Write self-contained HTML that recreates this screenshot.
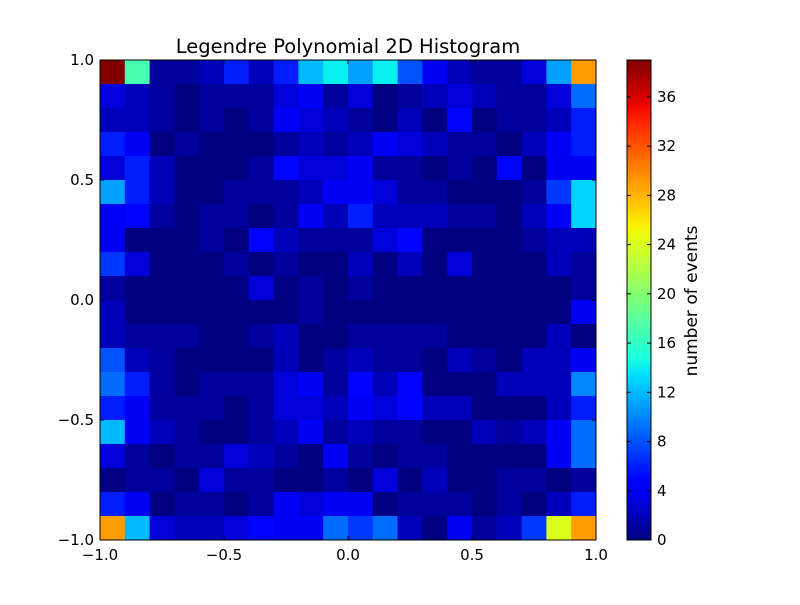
<!DOCTYPE html>
<html><head><meta charset="utf-8"><style>
body{margin:0;background:#fff;}
svg text{font-family:"DejaVu Sans","Liberation Sans",sans-serif;}
</style></head><body>
<svg id="chart" width="800" height="600" xmlns="http://www.w3.org/2000/svg">
<rect width="800" height="600" fill="#fff"/>
</svg>
<script>
const xEdges=[-1,-0.9,-0.8,-0.7,-0.6,-0.5,-0.4,-0.3,-0.2,-0.1,0,0.1,0.2,0.3,0.4,0.5,0.6,0.7,0.8,0.9,1];
const xTicks=[-1.0,-0.5,0.0,0.5,1.0];
const xTickLabels=["\u22121.0","\u22120.5","0.0","0.5","1.0"];
const yTicks=[-1.0,-0.5,0.0,0.5,1.0];
const yTickLabels=["\u22121.0","\u22120.5","0.0","0.5","1.0"];
const cbTicks=[0,4,8,12,16,20,24,28,32,36];
const vmax=39;
// counts: rows from top (y=1) to bottom (y=-1), columns x=-1..1
const counts=[
[39,17,1,1,2,6,2,6,12,14,11,14,8,4,2,1,1,3,11,29],
[3,2,1,0,1,1,1,3,4,1,3,0,1,2,3,2,1,1,3,9],
[2,2,1,0,1,0,1,4,3,2,1,0,2,0,5,0,1,1,2,6],
[6,4,0,1,0,0,0,1,2,1,2,4,3,2,1,1,0,2,4,6],
[3,6,2,0,0,0,1,5,3,3,4,1,1,0,1,0,5,0,4,4],
[11,6,2,0,0,1,1,1,2,4,4,3,1,1,0,0,0,1,7,13],
[4,5,1,0,1,1,0,1,4,2,6,2,2,2,1,1,0,2,4,13],
[4,0,0,0,1,0,5,2,1,1,1,3,5,0,0,0,0,1,2,2],
[7,3,0,0,0,1,0,1,0,0,2,0,2,0,3,0,0,0,2,1],
[1,0,0,0,0,0,3,0,1,0,1,0,0,0,0,0,0,0,0,1],
[2,0,0,0,0,0,0,0,1,0,0,0,0,0,0,0,0,0,0,4],
[2,1,1,1,0,0,1,2,0,0,1,1,1,1,0,0,0,0,2,0],
[8,2,1,0,0,0,0,2,0,1,2,1,1,0,2,1,0,2,2,4],
[9,6,1,0,1,1,1,3,4,1,5,2,5,0,0,0,2,2,2,10],
[6,4,1,1,1,0,1,3,3,2,4,3,5,2,2,0,0,0,2,6],
[12,4,2,1,0,0,1,2,4,1,2,1,1,0,0,2,1,2,4,9],
[3,1,0,1,1,3,2,1,0,4,1,0,1,1,0,0,0,0,4,9],
[0,1,1,0,3,1,1,0,0,1,0,3,0,2,0,0,1,1,0,1],
[6,4,0,1,1,0,1,4,3,4,4,0,1,1,1,0,1,0,2,6],
[29,12,3,2,2,3,5,4,4,9,7,9,2,0,4,1,2,7,24,29]
];
const NS="http://www.w3.org/2000/svg";
const svg=document.getElementById('chart');
const L=100,R=596,T=60,B=540;
const xs=v=>L+(v+1)/2*(R-L);
const ys=v=>B-(v+1)/2*(B-T);
function seg(pts,x){for(let i=1;i<pts.length;i++){if(x<=pts[i][0]){const a=pts[i-1],b=pts[i];return a[1]+(b[1]-a[1])*(x-a[0])/(b[0]-a[0]);}}return pts[pts.length-1][1];}
function jet(t){t=Math.max(0,Math.min(1,t));
const r=seg([[0,0],[0.35,0],[0.66,1],[0.89,1],[1,0.5]],t);
const g=seg([[0,0],[0.125,0],[0.375,1],[0.64,1],[0.91,0],[1,0]],t);
const b=seg([[0,0.5],[0.11,1],[0.34,1],[0.65,0],[1,0]],t);
return `rgb(${Math.round(r*255)},${Math.round(g*255)},${Math.round(b*255)})`;}
function el(tag,attrs){const e=document.createElementNS(NS,tag);for(const k in attrs)e.setAttribute(k,attrs[k]);svg.appendChild(e);return e;}
const nR=counts.length;
for(let r=0;r<nR;r++){for(let c=0;c<counts[r].length;c++){
const yTop=1-2*r/nR, yBot=1-2*(r+1)/nR;
const x0=xs(xEdges[c]),x1=xs(xEdges[c+1]);
const e=el('rect',{x:x0,y:ys(yTop),width:x1-x0+0.5,height:ys(yBot)-ys(yTop)+0.5,fill:jet(counts[r][c]/vmax)});


}}
const frame=el('rect',{x:L,y:T,width:R-L,height:B-T,fill:'none',stroke:'#000','stroke-width':1});


xTicks.forEach((v,i)=>{const x=xs(v);
el('line',{x1:x,x2:x,y1:B,y2:B-4,stroke:'#000'});el('line',{x1:x,x2:x,y1:T,y2:T+4,stroke:'#000'});
const t=el('text',{x:x,y:B+20,'font-size':15,'text-anchor':'middle'});t.textContent=xTickLabels[i];

});
yTicks.forEach((v,i)=>{const y=ys(v);
el('line',{x1:L,x2:L+4,y1:y,y2:y,stroke:'#000'});el('line',{x1:R,x2:R-4,y1:y,y2:y,stroke:'#000'});
const t=el('text',{x:L-6,y:y+5,'font-size':15,'text-anchor':'end'});t.textContent=yTickLabels[i];

});
const title=el('text',{x:348,y:53,'font-size':19.5,'text-anchor':'middle'});title.textContent='Legendre Polynomial 2D Histogram';


// colorbar
const CL=627,CR=651;
const cys=v=>B-v/vmax*(B-T);
const defs=el('defs',{});
const grad=document.createElementNS(NS,'linearGradient');grad.setAttribute('id','jetg');grad.setAttribute('x1','0');grad.setAttribute('y1','1');grad.setAttribute('x2','0');grad.setAttribute('y2','0');
for(let i=0;i<=40;i++){const s=document.createElementNS(NS,'stop');s.setAttribute('offset',i/40);s.setAttribute('stop-color',jet(i/40));grad.appendChild(s);}
defs.appendChild(grad);
const cb=el('rect',{x:CL,y:T,width:CR-CL,height:B-T,fill:'url(#jetg)',stroke:'#000'});


cbTicks.forEach(v=>{const y=cys(v);
el('line',{x1:CL,x2:CL+4,y1:y,y2:y,stroke:'#000'});el('line',{x1:CR,x2:CR-4,y1:y,y2:y,stroke:'#000'});
const t=el('text',{x:CR+6,y:y+5,'font-size':15});t.textContent=String(v);

});
const cl=el('text',{x:697,y:301,'font-size':17,'text-anchor':'middle',transform:'rotate(-90 697 301)'});cl.textContent='number of events';


</script>
</body></html>
